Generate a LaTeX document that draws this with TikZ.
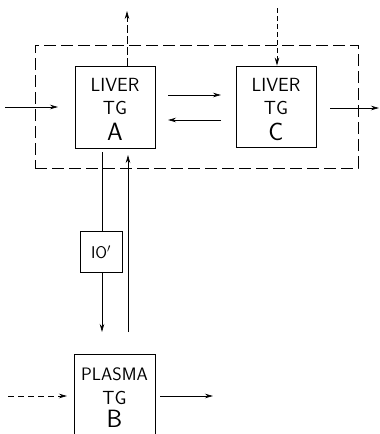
\documentclass[tikz,border=0pt]{standalone}
\usetikzlibrary{arrows.meta}
\begin{document}
\begin{tikzpicture}[x=1pt,y=-1pt,
  flow/.style={line width=0.7pt,-{Stealth[length=8pt,width=4.5pt]}},
  boxn/.style={draw,line width=0.8pt,inner sep=0pt},
  lbl/.style={font=\sffamily\fontsize{19}{19}\selectfont,inner sep=0pt},
  big/.style={font=\sffamily\fontsize{25}{25}\selectfont,inner sep=0pt},
  pool/.style={draw,line width=0.7pt,dash pattern=on 12pt off 5pt}]
\useasboundingbox (0,0) rectangle (380,434);
% outer dashed compartment
\node[pool,minimum width=323pt,minimum height=123pt,inner sep=0pt] (liver) at (196.5,106.5) {};
% boxes
\node[boxn,minimum width=80pt,minimum height=82pt] (A) at (115,107) {};
\node[boxn,minimum width=80pt,minimum height=81pt] (C) at (276,106.5) {};
\node[boxn,minimum width=42pt,minimum height=41pt] (T) at (101,251.5) {};
\node[boxn,minimum width=81pt,minimum height=100pt] (B) at (114.5,404) {};
% texts
\node[lbl] (a1) at (115,85) {LIVER};
\node[lbl] (a2) at (115,108) {TG};
\node[big] (a3) at (115,132) {A};
\node[lbl] (c1) at (276,85) {LIVER};
\node[lbl] (c2) at (276,108) {TG};
\node[big] (c3) at (276,132) {C};
\node[lbl,font=\sffamily\fontsize{17}{17}\selectfont] (t1) at (101,252) {IO$'$};
\node[lbl,font=\sffamily\fontsize{18}{18}\selectfont] (b1) at (114.5,374) {PLASMA};
\node[lbl] (b2) at (114.5,398) {TG};
\node[big] (b3) at (114.5,419) {B};
% coordinates
\coordinate (inL) at (5,107);
\coordinate (inLe) at (58,107);
\coordinate (upE) at (127,11);
\coordinate (dnS) at (277,8);
\coordinate (outC) at (330,108);
\coordinate (outCe) at (379,108);
\coordinate (ACs) at (168,95);
\coordinate (ACe) at (221,95);
\coordinate (CAs) at (221,120);
\coordinate (CAe) at (168,120);
\coordinate (vLs) at (102,152);
\coordinate (vLe) at (102,332);
\coordinate (vRs) at (128,332);
\coordinate (vRe) at (128,155);
\coordinate (inB) at (8,396);
\coordinate (inBe) at (67,396);
\coordinate (outB) at (160,396);
\coordinate (outBe) at (213,396);
% arrows
\draw[flow] (inL) -- (inLe);
\draw[flow,dash pattern=on 8pt off 3pt] (A.north -| upE) -- (upE);
\draw[flow,dash pattern=on 5pt off 3pt] (dnS) -- (C.north -| dnS);
\draw[flow] (outC) -- (outCe);
\draw[flow] (ACs) -- (ACe);
\draw[flow] (CAs) -- (CAe);
\draw[line width=0.7pt] (vLs) -- (T.north -| vLs);
\draw[flow] (T.south -| vLs) -- (vLe);
\draw[flow] (vRs) -- (vRe);
\draw[flow,dash pattern=on 6pt off 4pt] (inB) -- (inBe);
\draw[flow] (outB) -- (outBe);
\end{tikzpicture}
\end{document}
